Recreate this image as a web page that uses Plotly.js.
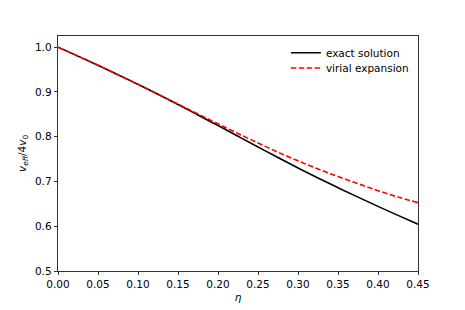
<!DOCTYPE html>
<html>
<head>
<meta charset="utf-8">
<script src="https://cdn.plot.ly/plotly-3.0.1.min.js"></script>
<style>html,body{margin:0;padding:0;background:#fff;}#chart{width:465px;height:310px;}</style>
</head>
<body>
<div id="chart"></div>
<script>
const eta = [0, 0.025, 0.05, 0.075, 0.1, 0.125, 0.15, 0.175, 0.2, 0.225, 0.25, 0.275, 0.3, 0.325, 0.35, 0.375, 0.4, 0.425, 0.45];
const exactSolution = [1.000, 0.9800, 0.9595, 0.9385, 0.9169, 0.8947, 0.8719, 0.8486, 0.8249, 0.8010, 0.7771, 0.7534, 0.7301, 0.7078, 0.6861, 0.6650, 0.6444, 0.6243, 0.6046];
const virialExpansion = [1.000, 0.9800, 0.9595, 0.9385, 0.9170, 0.8950, 0.8729, 0.8506, 0.8289, 0.8070, 0.7861, 0.7654, 0.7461, 0.7278, 0.7111, 0.6950, 0.6794, 0.6653, 0.6526];
const xTicks = [0, 0.05, 0.1, 0.15, 0.2, 0.25, 0.3, 0.35, 0.4, 0.45];
const xTickLabels = ["0.00", "0.05", "0.10", "0.15", "0.20", "0.25", "0.30", "0.35", "0.40", "0.45"];
const yTicks = [0.5, 0.6, 0.7, 0.8, 0.9, 1.0];
const yTickLabels = ["0.5", "0.6", "0.7", "0.8", "0.9", "1.0"];

const font = {family: "DejaVu Sans", size: 10.5, color: "#000"};
const legendFont = {family: "DejaVu Sans", size: 10.5, color: "#000"};
const traces = [
  {x: eta, y: exactSolution, name: "exact solution", mode: "lines", legend: "legend",
   line: {color: "#000000", width: 1.6, shape: "spline"}},
  {x: eta, y: virialExpansion, name: "virial expansion", mode: "lines", legend: "legend2",
   line: {color: "#ff0000", width: 1.6, dash: "5.5px,2.4px", shape: "spline"}}
];
const layout = {
  width: 465, height: 310,
  margin: {l: 58, r: 47, t: 36, b: 39},
  paper_bgcolor: "#fff", plot_bgcolor: "#fff",
  font: font,
  showlegend: true,
  legend: {x: 0.633, y: 0.9906, xanchor: "left", yanchor: "top", bgcolor: "rgba(0,0,0,0)", font: legendFont},
  legend2: {x: 0.633, y: 0.9255, xanchor: "left", yanchor: "top", bgcolor: "rgba(0,0,0,0)", font: legendFont},
  xaxis: {range: [0, 0.45], tickvals: xTicks, ticktext: xTickLabels, ticks: "outside", ticklen: 3.5,
          tickwidth: 0.8, tickcolor: "#000", showline: true, linecolor: "#000", linewidth: 0.8, mirror: true,
          showgrid: false, zeroline: false,
          title: {text: "<i>η</i>", font: {family: "DejaVu Sans", size: 10.5}, standoff: 4}},
  yaxis: {range: [0.5, 1.025], tickvals: yTicks, ticktext: yTickLabels, ticks: "outside", ticklen: 3.5,
          tickwidth: 0.8, tickcolor: "#000", showline: true, linecolor: "#000", linewidth: 0.8, mirror: true,
          showgrid: false, zeroline: false,
          title: {text: "<i>v</i><sub><i>eff</i></sub>/4<i>v</i><sub>0</sub>", font: {family: "DejaVu Sans", size: 10.5}, standoff: 6}}
};
Plotly.newPlot("chart", traces, layout, {staticPlot: true, displayModeBar: false});
</script>
</body>
</html>
